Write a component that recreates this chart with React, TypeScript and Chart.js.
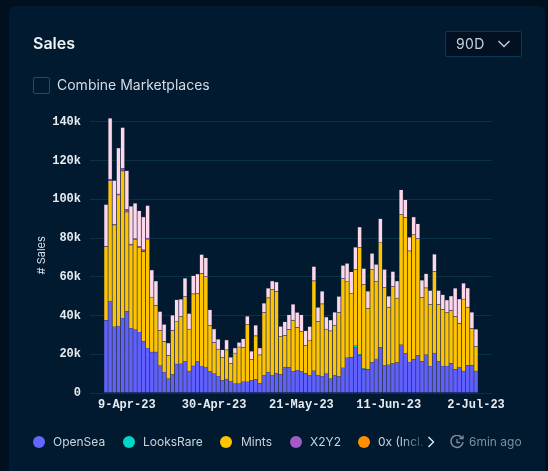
import React, { useEffect, useRef } from "react";
import { Chart, registerables } from "chart.js";

Chart.register(...registerables);

const tickIndex = [5, 26, 47, 68, 89];
const tickLabels = ["9-Apr-23", "30-Apr-23", "21-May-23", "11-Jun-23", "2-Jul-23"];
const yTicks = [0, 20000, 40000, 60000, 80000, 100000, 120000, 140000];
const openSea = [37.5,47.5,34.2,34.6,38.7,42.1,33.4,32.7,31.5,26.7,23.2,21.2,21.2,14.1,10.8,7.4,9.5,15,15.1,16.3,11.4,14.1,16.3,13.9,13.4,11.2,10,8.8,6.5,7.2,6.2,4.8,4.8,5.8,5.8,6.5,7.1,5,9.3,10.7,9.3,10.3,9.6,13.4,13.2,11.2,11.7,11.2,10.1,9.3,11.5,9.3,8.8,10,7.4,9.3,8.6,13.1,18.2,18.4,23.4,19.4,12.2,12.2,15.8,17.7,23.6,14.3,14.6,15.3,15.7,24.9,20.5,16,17.5,19.3,16.3,19.8,13.9,20.6,16.3,13.9,13.9,15.3,12.2,13.4,11.4,14.4,14.4,11.4];
const looksRare = [0,0,0,0,0,0,0,0,0,0,0,0,0,0,0,0,0,0,0,0,0,0,0,0,0,0,0,0,0,0,0,0,0,0,0,0,0,0,0,0,0,0,0,0,0,0,0,0,0,0,0,0,0,0,0,0,0,0,0,0,1,0.6,0.5,0,0,0,0,0,0,0,0,0,0,0,0,0,0,0,0,0,0,0,0,0,0,0,0,0,0,0];
const mints = [38,62.1,52.5,67.6,76,51.4,43,46.6,43.7,46.3,56.2,28.2,23.9,18.2,15.7,11.9,22.7,22,24.4,33.4,21.5,37,35.1,47.8,46.6,23.7,16,13.8,11.7,15,8.9,15.7,18.9,17.7,29.6,10.8,22.4,14.6,32.2,38.4,44,42,19.6,16.3,19.6,26.3,22,20.6,14.4,17.9,46.4,27.5,37.2,22.9,24.6,25.5,32.9,45.9,39.2,33,39.4,55,43.3,31.5,48,39.9,54.2,40.2,29.6,39.7,33.2,67.3,70,57.3,64.3,60.4,33,34.4,31.8,42.1,29.4,29.2,27.7,27.2,27.3,22.4,37,29.8,18.9,12.6];
const x2y2 = [0.3,0.8,0.3,0.6,1.2,1.4,0.5,0.4,0.4,1,0.6,0.1,0.1,0.1,0.1,0.1,0.1,0.1,0.1,0.1,0.1,0.1,0.1,0.1,0.1,0.1,0.1,0.1,0.1,0.1,0.1,0.1,0.1,0.1,0.1,0.1,0.1,0.1,0.1,0.1,0.1,0.1,0.1,0.1,0.1,0.1,0.1,0.1,0.1,0.1,0.1,0.1,0.1,0.1,0.1,0.1,0.1,0.1,0.1,0.1,0.1,0.1,0.1,0.1,0.1,0.1,0.1,0.1,0.1,0.1,0.1,0.1,0.1,0.1,0.1,0.1,0.1,0.1,0.1,0.1,0.1,0.1,0.1,0.1,0.1,0.1,0.1,0.1,0.1,0.1];
const other = [21.5,31.5,22.7,23.7,21.2,19.9,19.6,18.3,18.5,16.9,16.8,14,12.6,9.7,8.8,6.4,7.8,11.1,8.8,9.4,8,9.4,9.9,9.7,9.7,8,7,5.1,4,5.1,3.3,2.7,2.3,4.4,4.2,4.2,5.4,3.5,4.7,4.9,4.5,4.9,5.1,7,7.5,8.2,7.8,8.5,7.5,7,7.3,7.3,6.4,6.3,5.6,6.8,8.3,6.8,9.4,11.1,11.4,10.6,8.2,8.8,8.2,8.7,12.1,9.2,5.7,7.6,8.8,12.6,9.2,7,9,7.6,8.8,7.3,7.1,8.8,7.1,7.6,6.3,7.5,14.5,12.6,8.2,9.9,8.3,8.8];

const seriesList = [
  { label: "OpenSea", values: openSea, color: "#6060ff" },
  { label: "LooksRare", values: looksRare, color: "#00d2c8" },
  { label: "Mints", values: mints, color: "#ffc400" },
  { label: "X2Y2", values: x2y2, color: "#a050c0" },
  { label: "Other", values: other, color: "#fcd8ea" },
];
const legendItems = [
  { name: "OpenSea", color: "#6666ff", dot: 39, text: 53 },
  { name: "LooksRare", color: "#00d5c9", dot: 129, text: 143 },
  { name: "Mints", color: "#ffc400", dot: 226, text: 241 },
  { name: "X2Y2", color: "#a25ac4", dot: 296, text: 310 },
  { name: "0x (Incl. Matcha)", color: "#ff8f00", dot: 364, text: 378 },
];

const abs = (s: React.CSSProperties): React.CSSProperties => ({ position: "absolute", ...s });
const sans = "Inter, sans-serif";

export default function App() {
  const ref = useRef<HTMLCanvasElement>(null);
  useEffect(() => {
    const mono = { family: "'Liberation Mono', monospace", size: 12, weight: "bold" };
    const chart = new Chart(ref.current!, {
      type: "bar",
      data: {
        datasets: seriesList.map((s) => ({
          label: s.label,
          data: s.values.map((v, i) => ({ x: i, y: v * 1000 })),
          backgroundColor: s.color,
          borderColor: "rgba(80,80,105,0.7)",
          borderWidth: 0.6,
          barThickness: 3.9,
        })),
      },
      options: {
        animation: false,
        responsive: false,
        plugins: { legend: { display: false }, tooltip: { enabled: false } },
        layout: { padding: { left: 35, right: 56, top: 117.6, bottom: 0 } },
        scales: {
          x: {
            type: "linear",
            stacked: true,
            offset: false,
            min: -3.85,
            max: 92.85,
            grid: { display: false, drawTicks: false, tickLength: 0 },
            border: { display: false },
            afterBuildTicks: (a: any) => { a.ticks = tickIndex.map((value) => ({ value })); },
            afterFit: (a: any) => { a.height = 78; },
            ticks: {
              color: "#e6ebf0", font: mono, maxRotation: 0, autoSkip: false, padding: 5,
              callback: (v: any) => tickLabels[tickIndex.indexOf(Number(v))] ?? "",
            },
          },
          y: {
            stacked: true,
            min: 0,
            max: 142200,
            grid: { color: "#0b3147", lineWidth: 1, drawTicks: false },
            border: { display: false },
            afterBuildTicks: (a: any) => { a.ticks = yTicks.map((value) => ({ value })); },
            afterFit: (a: any) => { a.width = 55; },
            title: { display: true, text: "# Sales", color: "#d8dfe6", font: { family: sans, size: 11 }, padding: 0 },
            ticks: {
              color: "#e6ebf0", font: mono, padding: 9, autoSkip: false,
              callback: (v: any) => (v === 0 ? "0" : `${v / 1000}k`),
            },
          },
        },
      },
    } as any);
    return () => chart.destroy();
  }, []);

  return (
    <div style={abs({ left: 0, top: 0, width: 548, height: 471, background: "#00101f", overflow: "hidden", fontFamily: sans })}>
      <div style={abs({ left: 9, top: 6, width: 536, height: 470, background: "#011a30", borderRadius: 6 })} />
      <canvas ref={ref} width={548} height={471} style={abs({ left: 0, top: 0, width: 548, height: 471 })} />
      <div style={abs({ left: 33, top: 33, fontSize: 16, fontWeight: 600, color: "#f0f3f6", lineHeight: "20px" })}>Sales</div>
      <div style={abs({ left: 445, top: 31, width: 75, height: 24, background: "#011122", border: "1px solid #0c3a55", borderRadius: 2 })}>
        <span style={abs({ left: 10, top: 3, fontSize: 14, color: "#c8d0d8", lineHeight: "18px", letterSpacing: 0.4 })}>90D</span>
        <svg style={abs({ left: 51, top: 7 })} width="14" height="10" viewBox="0 0 14 10"><path d="M1.5 2 L7 7.5 L12.5 2" fill="none" stroke="#c8d0d8" strokeWidth="1.4" /></svg>
      </div>
      <div style={abs({ left: 33, top: 77, width: 15, height: 15, border: "1px solid #2a4a60", borderRadius: 2 })} />
      <div style={abs({ left: 57, top: 76, fontSize: 14, color: "#d5dce3", lineHeight: "18px", whiteSpace: "nowrap" })}>Combine Marketplaces</div>
      {legendItems.map((l, i) => (
        <React.Fragment key={l.name}>
          <div style={abs({ left: l.dot - 6, top: 436, width: 12, height: 12, borderRadius: 6, background: l.color })} />
          <div style={abs({
            left: l.text, top: 434, fontSize: 12, color: "#ccd4db", lineHeight: "16px", whiteSpace: "nowrap",
            ...(i === 4 ? { width: 52, overflow: "hidden", WebkitMaskImage: "linear-gradient(90deg,#000 40%,transparent 100%)" } : {}),
          })}>{l.name}</div>
        </React.Fragment>
      ))}
      <svg style={abs({ left: 427, top: 436 })} width="8" height="12" viewBox="0 0 8 12"><path d="M1.5 1 L6.5 6 L1.5 11" fill="none" stroke="#e6ebf0" strokeWidth="1.4" /></svg>
      <svg style={abs({ left: 450, top: 435 })} width="14" height="14" viewBox="0 0 14 14"><path d="M12 3 A6 6 0 1 0 13 7" fill="none" stroke="#7f8e9a" strokeWidth="1.5" /><path d="M7 4 V7.5 H10" fill="none" stroke="#7f8e9a" strokeWidth="1.3" /><path d="M9.5 3.5 H13 V0.5" fill="none" stroke="#7f8e9a" strokeWidth="1.3" /></svg>
      <div style={abs({ left: 469, top: 434, fontSize: 12, color: "#7f8e9a", lineHeight: "16px", whiteSpace: "nowrap" })}>6min ago</div>
    </div>
  );
}
